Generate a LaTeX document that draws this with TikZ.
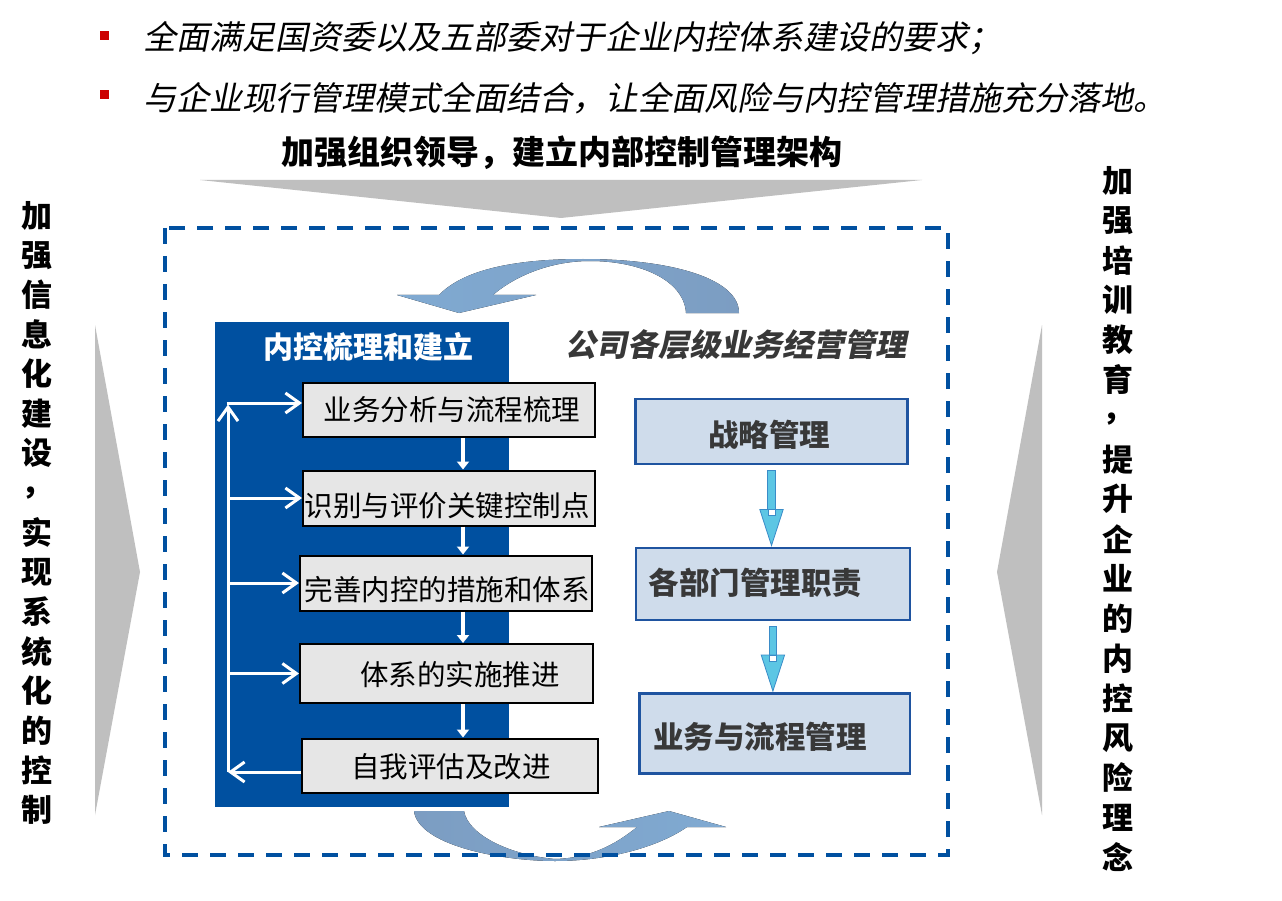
\documentclass[tikz,border=0pt]{standalone}
\usepackage{fontspec}
\setmainfont{Noto Sans CJK SC}
\newfontfamily\cjkit[FakeSlant=0.2]{Noto Sans CJK SC}
\usetikzlibrary{arrows.meta,calc}
\definecolor{dblue}{RGB}{0,80,160}
\definecolor{garr}{RGB}{191,191,191}
\definecolor{boxgray}{RGB}{230,230,230}
\definecolor{rbfill}{RGB}{207,220,235}
\definecolor{rbline}{RGB}{31,84,160}
\definecolor{cyanf}{RGB}{92,198,228}
\definecolor{cyanl}{RGB}{58,140,200}
\definecolor{curL}{RGB}{128,170,210}
\definecolor{curD}{RGB}{124,157,194}
\definecolor{dgray}{RGB}{56,56,56}
\definecolor{bred}{RGB}{204,0,0}
\newcommand\cyanarr[2]{%
  \coordinate (ca) at (#1.south);
  \coordinate (cb) at (#2.north -| ca);
  \filldraw[fill=cyanf,draw=cyanl,line width=0.8pt] ($(ca)+(-3.7,5)$) rectangle ($(cb)+(3.7,-31)$);
  \filldraw[fill=cyanf,draw=cyanl,line width=0.8pt] ($(cb)+(-11.7,-37)$) -- ($(cb)+(11.7,-37)$) -- ($(cb)+(0,-1)$) -- cycle;
  \filldraw[fill=white,draw=cyanl,line width=0.6pt] ($(cb)+(-3.3,-37)$) rectangle ($(cb)+(3.3,-31)$);
}
\begin{document}
\begin{tikzpicture}[x=1pt,y=-1pt,
  bsq/.style={fill=bred,inner sep=0,minimum size=9pt},
  btext/.style={anchor=west,inner sep=0,font=\cjkit\fontsize{33}{38}\selectfont},
  sidetxt/.style={inner sep=0,font=\bfseries\fontsize{31}{34}\selectfont},
  gbox/.style={draw=black,line width=2pt,fill=boxgray,inner sep=0},
  gtext/.style={inner sep=0,font=\fontsize{28.5}{32}\selectfont},
  rbox/.style={draw=rbline,line width=2.5pt,fill=rbfill,inner sep=0},
  rtext/.style={inner sep=0,text=dgray,font=\bfseries\fontsize{30.5}{34}\selectfont},
  warrow/.style={draw=white,line width=3pt,-{Straight Barb[length=14pt,width=20pt,line width=3pt]}},
  wdown/.style={draw=white,line width=4pt,-{Triangle[length=8pt,width=12pt]}},
]
\useasboundingbox (0,0) rectangle (1282,901);
\fill[white] (0,0) rectangle (1282,901);

% bullets
\node[bsq] (s1) at (104,36) {};
\node[btext] (bt1) at (143,38) {全面满足国资委以及五部委对于企业内控体系建设的要求；};
\node[bsq] (s2) at (104,95) {};
\node[btext] (bt2) at (143,98) {与企业现行管理模式全面结合，让全面风险与内控管理措施充分落地。};

% header
\node[inner sep=0,font=\bfseries\fontsize{33}{36}\selectfont] (hd) at (562,153) {加强组织领导，建立内部控制管理架构};
\fill[garr] (200,180) -- (922,180) -- (561,218) -- cycle;

% side arrows
\fill[garr] (95,325) -- (140,572) -- (95,815) -- cycle;
\fill[garr] (1042,325) -- (997,572) -- (1042,815) -- cycle;

% side texts
\foreach \c [count=\i from 0] in {加,强,信,息,化,建,设,，,实,现,系,统,化,的,控,制}
  \node[sidetxt] (l\i) at (37,{215.7+39.6*\i}) {\c};
\foreach \c [count=\i from 0] in {加,强,培,训,教,育,，,提,升,企,业,的,内,控,风,险,理,念}
  \node[sidetxt] (r\i) at (1118,{180.7+39.8*\i}) {\c};

% curved arrows
\fill[left color=curL,right color=curD]
  (739,313) -- (686,313)
  .. controls (684,280) and (640,261) .. (590,261)
  .. controls (545,261) and (510,280) .. (493,295)
  -- (536,295) -- (459,313) -- (397,295) -- (439,295)
  .. controls (465,268) and (520,259) .. (583,259)
  .. controls (670,259) and (739,278) .. (739,313) -- cycle;
\fill[left color=curD,right color=curL]
  (414,811) .. controls (418,845) and (500,861) .. (555,861)
  .. controls (610,861) and (660,846) .. (687,827)
  -- (726,827) -- (669,811) -- (599,827) -- (637,827)
  .. controls (615,845) and (590,858) .. (555,859)
  .. controls (510,855) and (468,835) .. (464,811) -- cycle;

% dashed frame
\draw[dblue,line width=4pt,dash pattern=on 16pt off 12pt] (165,228) rectangle (948,855);

% left panel
\node[fill=dblue,inner sep=0,minimum width=294pt,minimum height=485pt] (pnl) at (362,564.5) {};
\node[inner sep=0,text=white,font=\bfseries\fontsize{30}{34}\selectfont] (ptitle) at (368,347) {内控梳理和建立};

\node[gbox,minimum width=292pt,minimum height=54pt] (b1) at (449,410) {};
\node[gbox,minimum width=292pt,minimum height=55pt] (b2) at (449,498) {};
\node[gbox,minimum width=292pt,minimum height=55pt] (b3) at (446,583) {};
\node[gbox,minimum width=293pt,minimum height=59pt] (b4) at (446.5,673.5) {};
\node[gbox,minimum width=296pt,minimum height=54pt] (b5) at (450,765.5) {};
\node[gtext] (t1) at (452,410) {业务分析与流程梳理};
\node[gtext] (t2) at (447,506) {识别与评价关键控制点};
\node[gtext] (t3) at (447,590) {完善内控的措施和体系};
\node[gtext] (t4) at (460,675) {体系的实施推进};
\node[gtext] (t5) at (451,766.5) {自我评估及改进};

% white flow arrows
\coordinate (ax) at (463,0);
\draw[wdown] (b1.south -| ax) -- (b2.north -| ax);
\draw[wdown] (b2.south -| ax) -- (b3.north -| ax);
\draw[wdown] (b3.south -| ax) -- (b4.north -| ax);
\draw[wdown] (b4.south -| ax) -- (b5.north -| ax);

\coordinate (sTop) at (228,403);
\coordinate (sBot) at (228,772);
\draw[warrow] (sBot) -- ($(sTop)+(0,1.5)$);
\draw[warrow] ($(sTop)+(-1.5,0)$) -- (sTop -| b1.west);
\draw[warrow] (sTop |- b2.west) -- (b2.west);
\draw[warrow] (sTop |- b3.west) -- (b3.west);
\draw[warrow] (sTop |- b4.west) -- (b4.west);
\draw[warrow] (b5.west |- sBot) -- (sBot);

% right side
\node[inner sep=0,text=dgray,font=\cjkit\bfseries\fontsize{31}{34}\selectfont] (rt) at (736,345) {公司各层级业务经营管理};
\node[rbox,minimum width=271.6pt,minimum height=65pt] (A) at (771.5,431.5) {};
\node[rbox,minimum width=274.3pt,minimum height=72.3pt] (B) at (772.9,583.9) {};
\node[rbox,minimum width=270.7pt,minimum height=80pt] (C) at (774.7,733.3) {};
\node[rtext] (tA) at (769,435) {战略管理};
\node[rtext] (tB) at (755.5,583) {各部门管理职责};
\node[rtext] (tC) at (760,736.7) {业务与流程管理};
\cyanarr{A}{B}
\cyanarr{B}{C}
\end{tikzpicture}
\end{document}
